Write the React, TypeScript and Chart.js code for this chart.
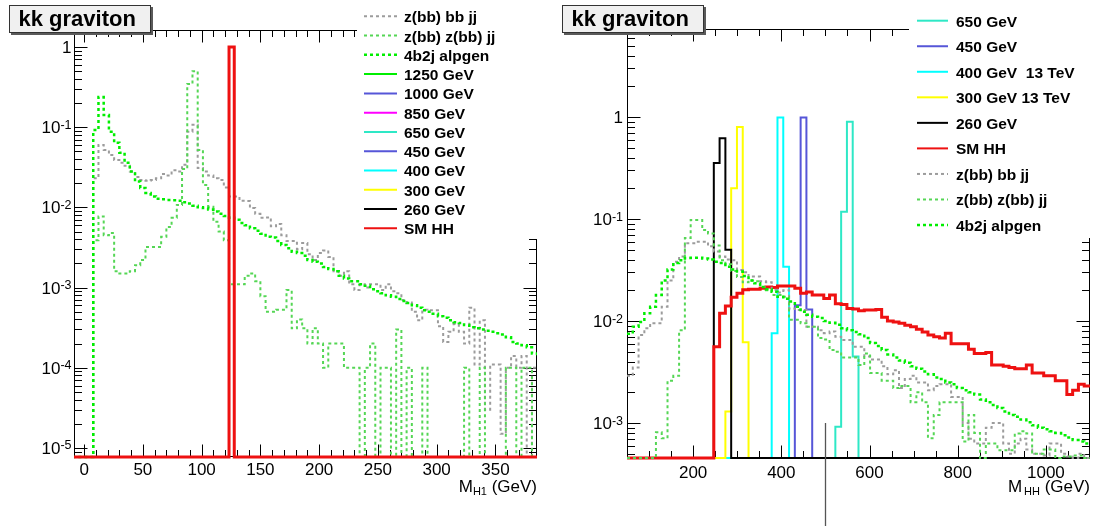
import React, { useEffect, useRef } from 'react';
import { Chart, registerables } from 'chart.js';

Chart.register(...registerables);

const FONT = '"Liberation Sans", Arial, Helvetica, sans-serif';

// ---------- colours ----------
const C_GRAY = '#9c9c9c';
const C_ZZ = '#55d655';
const C_4B2J = '#00ee00';
const C_RED = '#ee1111';
const C_BLACK = '#000000';
const C_YELLOW = '#ffff00';
const C_CYAN = '#00ffff';
const C_BLUE = '#5656d8';
const C_TEAL = '#2ee8c6';
const C_MAGENTA = '#ff00ff';
const C_1250 = '#00ee00';

// ---------- left panel : M_H1 ----------
const L_BIN_START = -10;
const L_BIN_WIDTH = 400 / 90;
const L_XTICK_LABELS = [0, 50, 100, 150, 200, 250, 300, 350];
const L_YDECADES = [-5, -4, -3, -2, -1, 0];

const L_4B2J = [
  0, 0, 0, 0, 0.092, 0.238, 0.142, 0.088, 0.064, 0.048,
  0.036, 0.028, 0.021, 0.0174, 0.0151, 0.0137, 0.0128, 0.0126, 0.0124, 0.0123,
  0.0121, 0.0116, 0.0112, 0.0105, 0.0100, 0.0098, 0.0094, 0.0089, 0.0083, 0.0078,
  0.0074, 0.0070, 0.0064, 0.0060, 0.0055, 0.0051, 0.0047, 0.0043, 0.0042, 0.0038,
  0.0034, 0.0031, 0.0028, 0.0027, 0.0025, 0.0022, 0.0021, 0.0020, 0.0018, 0.0017,
  0.0016, 0.0014, 0.0013, 0.0012, 0.0012, 0.0011, 0.00105, 0.00095, 0.00090, 0.00085,
  0.00080, 0.00077, 0.00072, 0.00068, 0.00064, 0.00060, 0.00056, 0.00052, 0.00050, 0.00047,
  0.00044, 0.00042, 0.00039, 0.00037, 0.00036, 0.00034, 0.00032, 0.00031, 0.00030, 0.00029,
  0.00028, 0.00027, 0.00026, 0.00024, 0.00021, 0.00020, 0.00019, 0.00018, 0.00015, 0.00014,
];

const L_ZBBJJ = [
  0, 0, 0, 0, 0.023, 0.060, 0.052, 0.045, 0.039, 0.036,
  0.033, 0.028, 0.024, 0.022, 0.0215, 0.022, 0.023, 0.026, 0.025, 0.029,
  0.028, 0.034, 0.088, 0.107, 0.031, 0.028, 0.025, 0.023, 0.022, 0.0177,
  0.0137, 0.0137, 0.0121, 0.012, 0.0098, 0.0083, 0.0074, 0.0075, 0.0058, 0.0062,
  0.0045, 0.0038, 0.0038, 0.0030, 0.0036, 0.0026, 0.0022, 0.0027, 0.0029, 0.0024,
  0.0016, 0.0014, 0.0016, 0.0011, 0.00093, 0.0011, 0.0010, 0.0011, 0.0011, 0.00093,
  0.0011, 0.0009, 0.00085, 0.0007, 0.00065, 0.0005, 0.00039, 0.00053, 0.00052, 0.00052,
  0.00033, 0.00021, 0.00028, 0.00035, 0.00028, 0.0002, 0.00056, 0.00011, 0.00039, 0.00003,
  0.00011, 0.00011, 0.000015, 0.0001, 0.00014, 0.0001, 0.00014, 0, 0.0001, 0.0001,
];

const L_ZZ = [
  0, 0, 0, 0, 0.0039, 0.0077, 0.0045, 0.0048, 0.0016, 0.0015,
  0.0015, 0.0016, 0.0019, 0.0022, 0.0032, 0.0032, 0.0032, 0.0043, 0.0057, 0.0074,
  0.0107, 0.030, 0.345, 0.50, 0.052, 0.019, 0.0102, 0.0066, 0.005, 0.0039,
  0.0011, 0.0011, 0.0011, 0.0014, 0.0015, 0.0012, 0.00078, 0.0005, 0.0005, 0.00053,
  0.00053, 0.00093, 0.00031, 0.0004, 0.00031, 0.0002, 0.00031, 0.0002, 0.0001, 0.0002,
  0.0002, 0.0002, 0.0001, 0.0001, 0.0001, 0, 0.0001, 0.0002, 0, 0.0001,
  0.0001, 0, 0.0003, 0, 0.0001, 0, 0, 0.0001, 0, 0,
  0, 0, 0, 0, 0, 0.0001, 0, 0, 0.0001, 0,
  0, 0, 0, 0.0001, 0.0001, 0, 0.0001, 0.0001, 0, 0,
];

// SM HH in M_H1: [bin index, content]
const L_SMHH_BINS: [number, number][] = [[30, 1.0]];

// ---------- right panel : M_HH ----------
const R_BIN_START = 50;
const R_BIN_WIDTH = 13.125;
const R_NBINS = 80;
const R_XTICK_LABELS = [200, 400, 600, 800, 1000];
const R_YDECADES = [-3, -2, -1, 0];

const R_4B2J = [
  0.0075, 0.0088, 0.0098, 0.0119, 0.0138, 0.018, 0.025, 0.032, 0.037, 0.0395,
  0.0415, 0.0417, 0.0417, 0.041, 0.040, 0.038, 0.037, 0.034, 0.032, 0.0305,
  0.0277, 0.025, 0.0235, 0.0215, 0.0205, 0.0194, 0.0173, 0.0165, 0.0155, 0.0138,
  0.0123, 0.0115, 0.0110, 0.0107, 0.0100, 0.0096, 0.0092, 0.0085, 0.0081, 0.0078,
  0.0074, 0.0068, 0.0061, 0.0057, 0.0052, 0.0047, 0.0044, 0.0041, 0.0039, 0.0036,
  0.0034, 0.0032, 0.0030, 0.0028, 0.0027, 0.0025, 0.0024, 0.0022, 0.0021, 0.0020,
  0.0019, 0.0017, 0.0016, 0.0015, 0.0014, 0.0013, 0.0012, 0.00115, 0.00108, 0.00102,
  0.00095, 0.0009, 0.00087, 0.00083, 0.0008, 0.00076, 0.00072, 0.00068, 0.00066, 0.00063,
];

const R_ZBBJJ = [
  0.0029, 0.0035, 0.0073, 0.0085, 0.0095, 0.0095, 0.0138, 0.025, 0.038, 0.043,
  0.058, 0.058, 0.060, 0.060, 0.054, 0.048, 0.043, 0.040, 0.0395, 0.0316,
  0.030, 0.0273, 0.0273, 0.0245, 0.024, 0.0202, 0.019, 0.020, 0.0133, 0.0128,
  0.0128, 0.0088, 0.0088, 0.0081, 0.0076, 0.0079, 0.0070, 0.0065, 0.0065, 0.0056,
  0.0056, 0.0045, 0.0042, 0.0042, 0.0036, 0.0030, 0.0033, 0.0022, 0.0027, 0.0029,
  0.0025, 0.0025, 0.0021, 0.0023, 0.0024, 0.0024, 0.0018, 0.0018, 0.0010, 0.0007,
  0.00063, 0.00063, 0.0009, 0.0010, 0.0010, 0.00063, 0.0005, 0.00063, 0.0007, 0.00055,
  0.0005, 0.0005, 0.00048, 0.00063, 0.00063, 0.0005, 0.00047, 0, 0.0005, 0,
];

const R_ZZ = [
  0, 0, 0, 0, 0, 0.00081, 0.00071, 0.0026, 0.0029, 0.0081,
  0.065, 0.098, 0.098, 0.078, 0.072, 0.055, 0.0395, 0.036, 0.031, 0.027,
  0.024, 0.025, 0.0245, 0.0216, 0.020, 0.018, 0.018, 0.0173, 0.0103, 0.0103,
  0.0095, 0.0088, 0.0088, 0.0068, 0.0066, 0.0052, 0.0050, 0.0044, 0.0044, 0.0044,
  0.0037, 0.0048, 0.0031, 0.0031, 0.0026, 0.0026, 0.0022, 0.0023, 0.0023, 0.0016,
  0.0020, 0.0016, 0.00071, 0.0012, 0.0016, 0.0016, 0.0016, 0.0016, 0.00066, 0.0012,
  0.0008, 0, 0.00063, 0.00063, 0.00054, 0.00054, 0.00054, 0.00079, 0.00083, 0.00079,
  0.0005, 0.0005, 0.00055, 0.00055, 0, 0.00047, 0.00047, 0.00048, 0.00048, 0,
];

const R_SMHH = [
  0, 0, 0, 0, 0, 0, 0, 0, 0, 0,
  0, 0, 0, 0, 0, 0.0056, 0.0119, 0.014, 0.0171, 0.0187,
  0.0202, 0.0205, 0.0205, 0.021, 0.0215, 0.0213, 0.022, 0.022, 0.022, 0.021,
  0.0187, 0.0192, 0.018, 0.018, 0.0166, 0.018, 0.0148, 0.0145, 0.0133, 0.0131,
  0.0126, 0.0128, 0.0128, 0.013, 0.0109, 0.010, 0.0098, 0.0095, 0.0091, 0.0088,
  0.0083, 0.0078, 0.0073, 0.007, 0.0068, 0.0076, 0.006, 0.006, 0.006, 0.0053,
  0.0048, 0.0048, 0.0049, 0.0037, 0.0037, 0.0036, 0.0035, 0.0034, 0.0034, 0.0037,
  0.0031, 0.0031, 0.0029, 0.0029, 0.0026, 0.0026, 0.0019, 0.0021, 0.0024, 0.0023,
];

// resonance signals: [bin index, content]
const R_260_BINS: [number, number][] = [[15, 0.354], [16, 0.62], [17, 0.05]];
const R_300_BINS: [number, number][] = [[17, 0.0013], [18, 0.2], [19, 0.8], [20, 0.0062]];
const R_400_BINS: [number, number][] = [[25, 0.0076], [26, 0.99], [27, 0.034]];
const R_450_BINS: [number, number][] = [[29, 0.0143], [30, 0.99], [31, 0.013]];
const R_650_BINS: [number, number][] = [[36, 0.00092], [37, 0.118], [38, 0.90], [39, 0.0045]];

// a stray vertical marker seen in the picture (x value, top y value)
const R_MARKER_X = 500;
const R_MARKER_TOP = 1e-3;

// ---------- helpers ----------
function expand(pairs: [number, number][], n: number): number[] {
  const out = new Array(n).fill(0);
  pairs.forEach(([i, v]) => { out[i] = v; });
  return out;
}

function histPoints(start: number, width: number, vals: number[], ymin: number) {
  const f = (v: number) => (v > 0 ? v : ymin);
  const pts = vals.map((v, i) => ({ x: start + i * width, y: f(v) }));
  pts.push({ x: start + vals.length * width, y: f(vals[vals.length - 1]) });
  return pts;
}

type Entry = { label: string; color: string; dash?: boolean; width?: number };

type PanelCfg = {
  xmin: number; xmax: number; ymin: number; ymax: number;
  padding: { left: number; top: number; right: number; bottom: number };
  xMinor: number; xMajor: number; xLabels: number[]; xLabelDy: number;
  yDecades: number[]; yLabelGap: number;
  sub: string; subGap: number;
  title: string; titleBox: { x: number; y: number; w: number; h: number };
  legendBox: { x: number; y: number; w: number; h: number };
  legend: Entry[]; legendX: number; legendTextX: number; legendLineY0: number; legendStep: number; legendLineW: number;
  datasets: any[];
  marker?: { x: number; top: number };
};

function dsOf(points: any[], color: string, width: number, dash: boolean) {
  return {
    data: points,
    borderColor: color,
    borderWidth: width,
    borderDash: dash ? [3, 3] : [],
    borderJoinStyle: 'miter',
    borderCapStyle: 'butt',
    stepped: true,
    pointRadius: 0,
    fill: false,
    tension: 0,
    clip: { left: 0, top: 0, right: 0, bottom: 2 },
  };
}

const L_YMIN = 7.7e-6;
const L_YMAX = 1.63;
const R_YMIN = 4.54e-4;
const R_YMAX = 7.29;

const L_N = L_4B2J.length;

const LEFT: PanelCfg = {
  xmin: -8.6, xmax: 385.4, ymin: L_YMIN, ymax: L_YMAX,
  padding: { left: 74, top: 30, right: 10, bottom: 69 },
  xMinor: 10, xMajor: 50, xLabels: L_XTICK_LABELS, xLabelDy: 18,
  yDecades: L_YDECADES, yLabelGap: 2.5,
  sub: 'H1', subGap: 0,
  title: 'kk graviton', titleBox: { x: 9, y: 5, w: 142, h: 28 },
  legendBox: { x: 357, y: 0, w: 190, h: 239 },
  legend: [
    { label: 'z(bb) bb jj', color: C_GRAY, dash: true, width: 2 },
    { label: 'z(bb) z(bb) jj', color: C_ZZ, dash: true, width: 2 },
    { label: '4b2j alpgen', color: C_4B2J, dash: true, width: 2.5 },
    { label: '1250 GeV', color: C_1250 },
    { label: '1000 GeV', color: C_BLUE },
    { label: '850 GeV', color: C_MAGENTA },
    { label: '650 GeV', color: C_TEAL },
    { label: '450 GeV', color: C_BLUE },
    { label: '400 GeV', color: C_CYAN },
    { label: '300 GeV', color: C_YELLOW },
    { label: '260 GeV', color: C_BLACK },
    { label: 'SM HH', color: C_RED },
  ],
  legendX: 364, legendTextX: 404, legendLineY0: 16.3, legendStep: 19.27, legendLineW: 33,
  datasets: [
    dsOf(histPoints(L_BIN_START, L_BIN_WIDTH, expand(L_SMHH_BINS, L_N), L_YMIN), C_RED, 3, false),
    dsOf(histPoints(L_BIN_START, L_BIN_WIDTH, L_4B2J, L_YMIN), C_4B2J, 2.5, true),
    dsOf(histPoints(L_BIN_START, L_BIN_WIDTH, L_ZZ, L_YMIN), C_ZZ, 2, true),
    dsOf(histPoints(L_BIN_START, L_BIN_WIDTH, L_ZBBJJ, L_YMIN), C_GRAY, 2, true),
  ],
};

const RIGHT: PanelCfg = {
  xmin: 50, xmax: 1100, ymin: R_YMIN, ymax: R_YMAX,
  padding: { left: 80, top: 29, right: 4, bottom: 68 },
  xMinor: 50, xMajor: 200, xLabels: R_XTICK_LABELS, xLabelDy: 20,
  yDecades: R_YDECADES, yLabelGap: 4,
  sub: 'HH', subGap: 2,
  title: 'kk graviton', titleBox: { x: 15, y: 5, w: 142, h: 28 },
  legendBox: { x: 362, y: 0, w: 185, h: 238 },
  legend: [
    { label: '650 GeV', color: C_TEAL },
    { label: '450 GeV', color: C_BLUE },
    { label: '400 GeV  13 TeV', color: C_CYAN },
    { label: '300 GeV 13 TeV', color: C_YELLOW },
    { label: '260 GeV', color: C_BLACK },
    { label: 'SM HH', color: C_RED },
    { label: 'z(bb) bb jj', color: C_GRAY, dash: true, width: 2 },
    { label: 'z(bb) z(bb) jj', color: C_ZZ, dash: true, width: 2 },
    { label: '4b2j alpgen', color: C_4B2J, dash: true, width: 2.5 },
  ],
  legendX: 370, legendTextX: 409, legendLineY0: 20.7, legendStep: 25.54, legendLineW: 31,
  datasets: [
    dsOf(histPoints(R_BIN_START, R_BIN_WIDTH, R_4B2J, R_YMIN), C_4B2J, 2.5, true),
    dsOf(histPoints(R_BIN_START, R_BIN_WIDTH, R_ZZ, R_YMIN), C_ZZ, 2, true),
    dsOf(histPoints(R_BIN_START, R_BIN_WIDTH, R_ZBBJJ, R_YMIN), C_GRAY, 2, true),
    dsOf(histPoints(R_BIN_START, R_BIN_WIDTH, R_SMHH, R_YMIN), C_RED, 3, false),
    dsOf(histPoints(R_BIN_START, R_BIN_WIDTH, expand(R_260_BINS, R_NBINS), R_YMIN), C_BLACK, 2, false),
    dsOf(histPoints(R_BIN_START, R_BIN_WIDTH, expand(R_300_BINS, R_NBINS), R_YMIN), C_YELLOW, 2, false),
    dsOf(histPoints(R_BIN_START, R_BIN_WIDTH, expand(R_400_BINS, R_NBINS), R_YMIN), C_CYAN, 2, false),
    dsOf(histPoints(R_BIN_START, R_BIN_WIDTH, expand(R_450_BINS, R_NBINS), R_YMIN), C_BLUE, 2, false),
    dsOf(histPoints(R_BIN_START, R_BIN_WIDTH, expand(R_650_BINS, R_NBINS), R_YMIN), C_TEAL, 2, false),
  ],
  marker: { x: R_MARKER_X, top: R_MARKER_TOP },
};

// ---------- drawing ----------
function drawFrame(chart: any, cfg: PanelCfg) {
  const ctx: CanvasRenderingContext2D = chart.ctx;
  const a = chart.chartArea;
  const xs = chart.scales.x;
  const ys = chart.scales.y;
  ctx.save();
  ctx.strokeStyle = '#000';
  ctx.lineWidth = 1;
  const L = Math.round(a.left) + 0.5;
  const R = Math.round(a.right) - 0.5;
  const T = Math.round(a.top) + 0.5;
  const B = Math.round(a.bottom) - 0.5;
  ctx.strokeRect(L, T, R - L, B - T);

  ctx.beginPath();
  const start = Math.ceil(cfg.xmin / cfg.xMinor) * cfg.xMinor;
  for (let v = start; v <= cfg.xmax + 1e-9; v += cfg.xMinor) {
    const vv = Math.round(v * 1000) / 1000;
    const q = vv / cfg.xMajor;
    const major = Math.abs(q - Math.round(q)) < 1e-6;
    const len = major ? 12 : 6.5;
    const px = Math.round(xs.getPixelForValue(vv)) + 0.5;
    if (px < L + 0.5 || px > R - 0.5) continue;
    ctx.moveTo(px, B); ctx.lineTo(px, B - len);
    ctx.moveTo(px, T); ctx.lineTo(px, T + len);
  }
  const dLo = Math.floor(Math.log10(cfg.ymin));
  const dHi = Math.ceil(Math.log10(cfg.ymax));
  for (let d = dLo; d <= dHi; d++) {
    for (let m = 1; m <= 9; m++) {
      const v = m * Math.pow(10, d);
      if (v < cfg.ymin || v > cfg.ymax) continue;
      const py = Math.round(ys.getPixelForValue(v)) + 0.5;
      const len = m === 1 ? 13 : 7.5;
      ctx.moveTo(L, py); ctx.lineTo(L + len, py);
      ctx.moveTo(R, py); ctx.lineTo(R - len, py);
    }
  }
  ctx.stroke();

  // x tick labels
  ctx.fillStyle = '#000';
  ctx.textBaseline = 'alphabetic';
  ctx.font = `17px ${FONT}`;
  ctx.textAlign = 'center';
  cfg.xLabels.forEach((v) => {
    ctx.fillText(String(v), xs.getPixelForValue(v), a.bottom + cfg.xLabelDy);
  });

  // y tick labels
  ctx.textAlign = 'right';
  cfg.yDecades.forEach((d) => {
    const py = ys.getPixelForValue(Math.pow(10, d));
    const xr = a.left - cfg.yLabelGap;
    if (d === 0) {
      ctx.font = `17px ${FONT}`;
      ctx.fillText('1', xr, py + 6);
    } else {
      const sup = String(d);
      ctx.font = `12.5px ${FONT}`;
      ctx.fillText(sup, xr, py + 1.5);
      const w = ctx.measureText(sup).width;
      ctx.font = `17px ${FONT}`;
      ctx.fillText('10', xr - w, py + 6);
    }
  });

  // axis title  M_sub (GeV)
  ctx.textAlign = 'left';
  const ty = 491.5;
  const tail = ' (GeV)';
  ctx.font = `17px ${FONT}`;
  const wTail = ctx.measureText(tail).width;
  const wM = ctx.measureText('M').width;
  ctx.font = `11px ${FONT}`;
  const wSub = ctx.measureText(cfg.sub).width;
  let x = a.right - wTail - wSub - cfg.subGap - wM;
  ctx.font = `17px ${FONT}`;
  ctx.fillText('M', x, ty);
  x += wM + cfg.subGap;
  ctx.font = `11px ${FONT}`;
  ctx.fillText(cfg.sub, x, ty + 3.5);
  x += wSub;
  ctx.font = `17px ${FONT}`;
  ctx.fillText(tail, x, ty);
  ctx.restore();
}

function drawOverlay(chart: any, cfg: PanelCfg) {
  const ctx: CanvasRenderingContext2D = chart.ctx;
  const xs = chart.scales.x;
  const ys = chart.scales.y;
  ctx.save();

  if (cfg.marker) {
    const px = Math.round(xs.getPixelForValue(cfg.marker.x)) + 0.5;
    const py = ys.getPixelForValue(cfg.marker.top);
    ctx.strokeStyle = '#555';
    ctx.lineWidth = 1.3;
    ctx.beginPath();
    ctx.moveTo(px, py);
    ctx.lineTo(px, chart.height);
    ctx.stroke();
  }

  // title box
  const b = cfg.titleBox;
  ctx.fillStyle = '#5a5a5a';
  ctx.fillRect(b.x + 2, b.y + 2, b.w, b.h);
  ctx.fillStyle = '#f0f0f0';
  ctx.fillRect(b.x, b.y, b.w, b.h);
  ctx.strokeStyle = '#333';
  ctx.lineWidth = 1;
  ctx.strokeRect(b.x + 0.5, b.y + 0.5, b.w - 1, b.h - 1);
  ctx.fillStyle = '#000';
  ctx.font = `bold 22px ${FONT}`;
  ctx.textAlign = 'left';
  ctx.textBaseline = 'alphabetic';
  ctx.fillText(cfg.title, b.x + 9.5, b.y + 20.5);

  // legend (white filled box, no border)
  const lb = cfg.legendBox;
  ctx.fillStyle = '#ffffff';
  ctx.fillRect(lb.x, lb.y, lb.w, lb.h);
  cfg.legend.forEach((e, i) => {
    const ly = cfg.legendLineY0 + i * cfg.legendStep;
    ctx.strokeStyle = e.color;
    ctx.lineWidth = e.width ?? 2;
    ctx.setLineDash(e.dash ? [3, 3] : []);
    ctx.beginPath();
    ctx.moveTo(cfg.legendX, ly);
    ctx.lineTo(cfg.legendX + cfg.legendLineW, ly);
    ctx.stroke();
    ctx.setLineDash([]);
    ctx.fillStyle = '#000';
    ctx.font = `bold 15.5px ${FONT}`;
    ctx.fillText(e.label, cfg.legendTextX, ly + 6);
  });
  ctx.restore();
}

function Panel({ cfg, left }: { cfg: PanelCfg; left: number }) {
  const ref = useRef<HTMLCanvasElement>(null);
  useEffect(() => {
    if (!ref.current) return;
    const chart = new Chart(ref.current, {
      type: 'line',
      data: { datasets: cfg.datasets },
      options: {
        animation: false,
        responsive: false,
        maintainAspectRatio: false,
        devicePixelRatio: 1,
        events: [],
        layout: { padding: cfg.padding },
        plugins: {
          legend: { display: false },
          tooltip: { enabled: false },
          title: { display: false },
        },
        scales: {
          x: { type: 'linear', min: cfg.xmin, max: cfg.xmax, display: false, bounds: 'data' },
          y: { type: 'logarithmic', min: cfg.ymin, max: cfg.ymax, display: false, bounds: 'data' },
        },
      } as any,
      plugins: [
        {
          id: 'rootFrame',
          beforeDatasetsDraw: (c: any) => drawFrame(c, cfg),
          afterDraw: (c: any) => drawOverlay(c, cfg),
        },
      ],
    });
    return () => chart.destroy();
  }, [cfg]);
  return (
    <canvas
      ref={ref}
      width={547}
      height={526}
      style={{ position: 'absolute', left, top: 0, width: 547, height: 526 }}
    />
  );
}

export default function App() {
  return (
    <div
      style={{
        position: 'fixed', left: 0, top: 0, width: 1094, height: 526,
        background: '#ffffff', overflow: 'hidden',
      }}
    >
      <Panel cfg={LEFT} left={0} />
      <Panel cfg={RIGHT} left={547} />
    </div>
  );
}
